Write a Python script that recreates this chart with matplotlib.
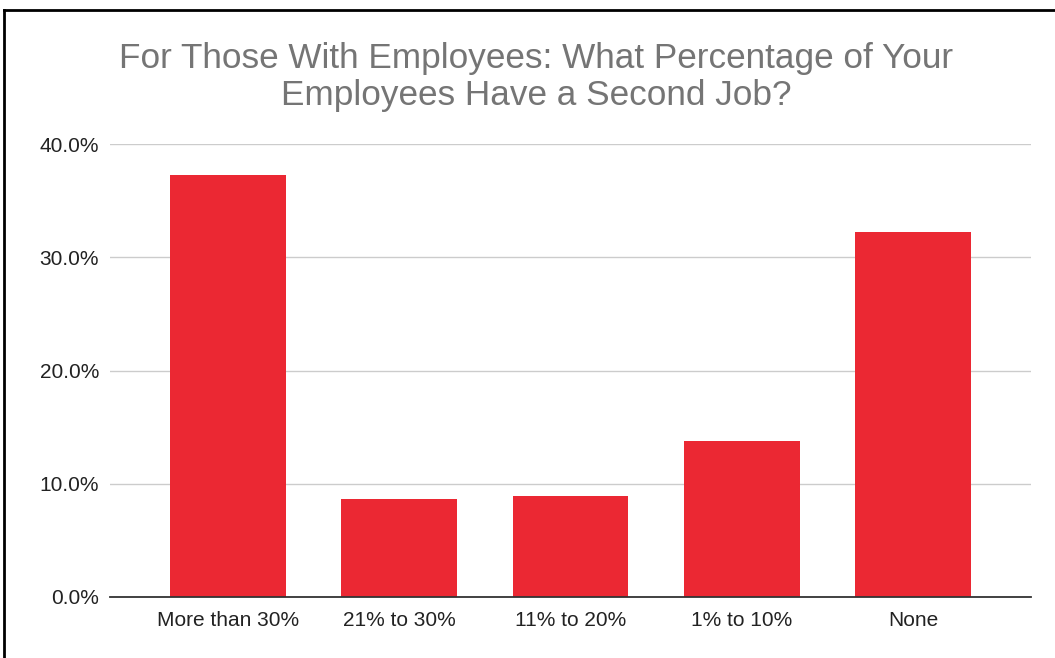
import matplotlib
matplotlib.use("Agg")
import matplotlib.pyplot as plt
from matplotlib.lines import Line2D
from matplotlib.ticker import FuncFormatter

categories = ["More than 30%", "21% to 30%", "11% to 20%", "1% to 10%", "None"]
values = [37.3, 8.65, 8.95, 13.75, 32.2]
yticks = [0, 10, 20, 30, 40]
title = "For Those With Employees: What Percentage of Your\nEmployees Have a Second Job?"

plt.rcParams['font.family'] = ['Liberation Sans', 'DejaVu Sans']

fig = plt.figure(figsize=(10.55, 6.58), dpi=100)
ax = fig.add_axes([110/1055, 1-597/658, (1031-110)/1055, (597-144)/658])

x = list(range(len(categories)))
ax.bar(x, values, width=0.676, color="#EB2833", zorder=3)
ax.set_xlim(-0.69, 4.69)
ax.set_ylim(0, 40)
ax.set_yticks(yticks)
ax.yaxis.set_major_formatter(FuncFormatter(lambda v, p: f"{v:.1f}%"))
ax.set_xticks(x)
ax.set_xticklabels(categories)
ax.tick_params(axis='both', length=0, labelsize=15, colors="#222222")
ax.tick_params(axis='x', pad=10)
ax.tick_params(axis='y', pad=8)
ax.grid(axis='y', color="#cccccc", linewidth=1, zorder=0)
for s in ['top', 'right', 'left']:
    ax.spines[s].set_visible(False)
ax.spines['bottom'].set_color("#333333")
ax.spines['bottom'].set_linewidth(1.3)
ax.spines['bottom'].set_zorder(4)

fig.text(536/1055, 1-77/658, title, ha='center', va='center', fontsize=25.3,
         color="#757575", linespacing=1.17)

# outer border (top and left)
fig.add_artist(Line2D([4/1055, 1], [1-10/658, 1-10/658], color='black', linewidth=2, transform=fig.transFigure))
fig.add_artist(Line2D([4/1055, 4/1055], [0, 1-10/658], color='black', linewidth=2, transform=fig.transFigure))

fig.savefig("out.png", dpi=100)
